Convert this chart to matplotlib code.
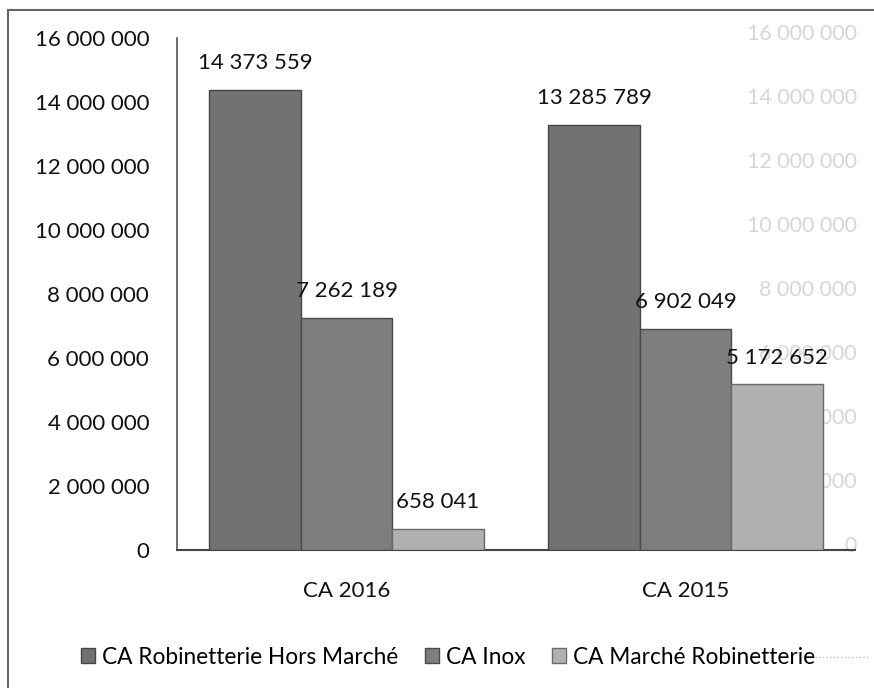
import matplotlib
matplotlib.use("Agg")
import matplotlib.pyplot as plt
import numpy as np
from matplotlib.patches import Patch
from matplotlib.lines import Line2D

categories = ["CA 2016", "CA 2015"]
series_names = ["CA Robinetterie Hors Marché", "CA Inox", "CA Marché Robinetterie"]
values = {
    "CA Robinetterie Hors Marché": [14373559, 13285789],
    "CA Inox": [7262189, 6902049],
    "CA Marché Robinetterie": [658041, 5172652],
}
colors = ["#727272", "#7e7e7e", "#b0b0b0"]
edgecolors = ["#454545", "#4a4a4a", "#6a6a6a"]
yticks = [0, 2000000, 4000000, 6000000, 8000000, 10000000, 12000000, 14000000, 16000000]

def fmt(v):
    return f"{v:,}".replace(",", " ")

plt.rcParams['font.family'] = ['Lato', 'DejaVu Sans']

fig = plt.figure(figsize=(8.74, 6.88), dpi=100)
ax = fig.add_axes([177/874, 138/688, (855 - 177)/874, (550 - 38)/688])

x = np.arange(len(categories))
w = 0.27
for i, name in enumerate(series_names):
    xs = x + (i - 1) * w
    ax.bar(xs, values[name], width=w, color=colors[i], edgecolor=edgecolors[i],
           linewidth=1.0, zorder=3, label=name)
    for xi, v in zip(xs, values[name]):
        ax.annotate(fmt(v), (xi, v), xytext=(0, 12), textcoords="offset points",
                    ha="center", va="bottom", fontsize=16, color="#111111", zorder=5)

ax.set_xlim(-0.5, 1.5)
ax.set_ylim(0, 16000000)
ax.set_yticks(yticks)
ax.set_yticklabels([fmt(t) for t in yticks], fontsize=16, color="#111111")
ax.set_xticks(x)
ax.set_xticklabels(categories, fontsize=16, color="#111111")
ax.tick_params(axis="both", length=0)
ax.tick_params(axis="y", pad=20)
ax.tick_params(axis="x", pad=22)
for s in ["top", "right"]:
    ax.spines[s].set_visible(False)
ax.spines["left"].set_color("#555555")
ax.spines["bottom"].set_color("#444444")
ax.spines["left"].set_linewidth(1.2)
ax.spines["bottom"].set_linewidth(1.5)

# faint bleed-through right-hand labels
for t in yticks:
    ax.annotate(fmt(t), (1.003, t), xycoords=ax.get_yaxis_transform(), xytext=(0, 3),
                textcoords="offset points", ha="right", va="center",
                fontsize=15.5, color="#d6d6d6", zorder=1, annotation_clip=False)

handles = [Patch(facecolor=colors[i], edgecolor=edgecolors[i], label=series_names[i]) for i in range(3)]
fig.legend(handles=handles, loc="center", bbox_to_anchor=(448/874, 31/688), ncol=3, frameon=False,
           fontsize=16.3, handlelength=0.6, handleheight=0.6, handletextpad=0.3, columnspacing=1.2)

# faint dotted trace after legend
fig.add_artist(Line2D([815/874, 870/874], [31/688, 31/688], transform=fig.transFigure,
                      color="#bbbbbb", lw=1.0, ls=":"))

# outer frame (partial, scanned)
fig.add_artist(Line2D([8/874, 8/874], [0, 1 - 10/688], transform=fig.transFigure, color="#666666", lw=1.5))
fig.add_artist(Line2D([8/874, 1], [1 - 10/688, 1 - 10/688], transform=fig.transFigure, color="#666666", lw=1.5))

fig.savefig("out.png", dpi=100)
